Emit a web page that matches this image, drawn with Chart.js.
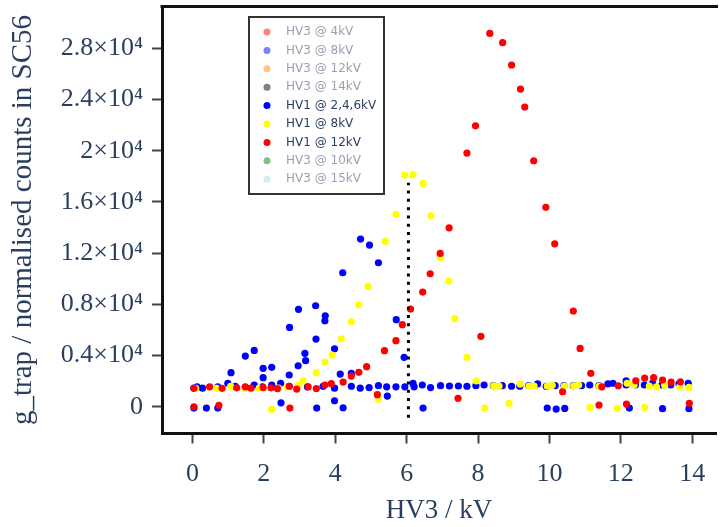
<!DOCTYPE html>
<html>
<head>
<meta charset="utf-8">
<script src="https://cdn.jsdelivr.net/npm/chart.js@4.4.1/dist/chart.umd.min.js"></script>
<style>
  html, body { margin: 0; padding: 0; background: #fff; }
  #wrap { width: 720px; height: 527px; }
</style>
</head>
<body>
<div id="wrap"><canvas id="chart" width="720" height="527"></canvas></div>
<script>
// tick labels
const xTicks = [0, 2, 4, 6, 8, 10, 12, 14];
const yMajor = [0, 4000, 8000, 12000, 16000, 20000, 24000, 28000];
const yMajorLabels = ["0", "0.4×10⁴", "0.8×10⁴", "1.2×10⁴", "1.6×10⁴", "2×10⁴", "2.4×10⁴", "2.8×10⁴"];
const yMinor = [2000, 6000, 10000, 14000, 18000, 22000, 26000, 30000];

// legend entries (order as in the legend box)
const seriesNames = ["HV3 @ 4kV", "HV3 @ 8kV", "HV3 @ 12kV", "HV3 @ 14kV", "HV1 @ 2,4,6kV", "HV1 @ 8kV", "HV1 @ 12kV", "HV3 @ 10kV", "HV3 @ 15kV"];
const seriesColors = ["#ff0000", "#0000ff", "#ff8c00", "#000000", "#0000ff", "#ffff00", "#ff0000", "#008000", "#add8e6"];
const seriesShown = [false, false, false, false, true, true, true, false, false];

// HV1 @ 2,4,6kV  [HV3 kV, counts]
const hv1_246 = [
  [0.04,1450],[0.13,1560],[0.28,1450],[0.71,1560],[0.99,1830],[1.2,1600],[1.48,1520],[1.73,1700],
  [1.96,1560],[2.22,1700],[2.47,1830],[2.71,1600],[3.22,1560],[3.66,1600],[3.98,1450],[4.45,1600],
  [4.7,1450],[4.95,1500],[5.21,1650],[5.44,1560],[5.7,1560],[5.95,1560],[6.18,1820],[6.21,1560],
  [6.44,1700],[6.67,1500],[6.95,1650],[7.2,1620],[7.45,1620],[7.69,1600],[7.94,1650],[8.17,1700],
  [8.43,1650],[8.68,1650],[8.94,1600],[9.17,1600],[9.42,1650],[9.67,1780],[9.91,1600],[10.16,1650],
  [10.41,1650],[10.67,1650],[10.9,1650],[11.13,1700],[11.39,1650],[11.64,1780],[11.78,1830],[12.15,2030],
  [12.15,1700],[12.41,1700],[12.66,1700],[12.89,1830],[13.15,1700],[13.4,1700],[13.63,1780],[13.89,1830],
  [1.08,2660],[1.48,3960],[1.73,4400],[1.98,3000],[1.98,2270],[2.22,3080],[2.72,6200],[2.71,2480],
  [2.96,3200],[2.97,7610],[3.15,4170],[3.17,3600],[3.45,7890],[3.46,5290],[3.72,7110],[3.71,6720],
  [3.98,4530],[4.14,2550],[4.21,10470],[4.45,2600],[4.71,13100],[4.96,12630],[5.21,11250],[5.46,830],
  [5.71,6800],[5.93,3860],
  [0.04,-100],[0.39,-100],[0.71,-100],[2.48,310],[3.48,-100],[3.98,470],[4.22,-80],[6.46,-100],
  [9.94,-100],[10.19,-180],[10.43,-130],[12.24,-100],[13.17,-150],[13.91,-150]
];

// HV1 @ 8kV
const hv1_8 = [
  [0.09,1440],[0.68,1440],[1.07,1600],[1.46,1440],[1.87,1450],[2.41,1450],[2.66,1560],[2.97,1700],
  [3.1,2030],[3.47,2660],[3.71,3490],[3.91,4040],[4.17,5310],[4.45,6640],[4.66,7970],[4.92,9400],
  [5.4,12920],[5.7,15030],[5.95,18100],[6.18,18130],[6.46,17450],[6.68,14920],[6.95,11670],[7.18,9820],
  [7.35,6880],[7.69,3860],[7.95,2010],[8.44,1640],[8.59,1620],[9.18,1770],[9.43,1620],[9.57,1620],
  [9.94,1620],[10.08,1670],[10.42,1620],[10.68,1640],[10.82,1700],[11.4,1620],[12.18,1830],[12.37,1700],
  [12.8,1620],[13.0,1560],[13.23,1670],[13.65,1560],[13.91,1510],
  [2.22,-200],[5.21,580],[8.19,-100],[8.87,270],[11.14,-50],[11.9,-130],[12.67,-50]
];

// HV1 @ 12kV
const hv1_12 = [
  [0.04,1440],[0.48,1560],[0.83,1440],[1.24,1480],[1.48,1560],[1.64,1450],[1.98,1500],[2.2,1480],
  [2.38,1420],[2.71,1600],[2.92,1380],[3.24,1560],[3.47,1420],[3.71,1700],[3.89,1800],[4.22,1930],
  [4.45,2400],[4.66,2690],[4.88,3130],[5.38,4380],[5.7,5160],[5.88,6410],[6.11,7630],[6.45,8960],
  [6.66,10390],[6.94,11980],[7.19,13980],[7.69,19820],[7.93,21950],[8.33,29170],[8.69,28440],[8.94,26700],
  [9.19,24820],[9.31,23410],[9.56,19220],[9.9,15580],[10.15,12730],[10.67,7480],[10.86,4560],[8.08,5500],
  [7.44,660],[11.16,2610],[10.37,1170],[11.47,1560],[11.93,1640],[12.42,2030],[12.67,2240],[12.92,2270],
  [13.17,2090],[13.41,1930],[13.67,1950],
  [0.04,0],[0.74,110],[2.73,-100],[5.18,940],[11.39,130],[12.16,210],[13.92,270]
];

// dotted marker line
const markerLine = [[6.05,-850],[6.05,17500]];

const seriesData = [[], [], [], [], hv1_246, hv1_8, hv1_12, [], []];
const seriesOrder = [9, 9, 9, 9, 3, 2, 1, 9, 9];

const toPts = arr => arr.map(p => ({x: p[0], y: p[1]}));

const datasets = seriesNames.map((name, i) => ({
    type: "scatter",
    label: name,
    data: toPts(seriesData[i]),
    order: seriesOrder[i],
    pointRadius: 3.6,
    pointBorderWidth: 0,
    pointBackgroundColor: seriesColors[i],
    backgroundColor: seriesColors[i],
    shown: seriesShown[i]
}));

datasets.push({
    type: "line",
    label: "marker",
    data: toPts(markerLine),
    order: 0,
    borderColor: "#000",
    borderWidth: 3,
    borderDash: [3, 5.3],
    pointRadius: 0,
    noLegend: true
});

function fade(hex) {
    let r = parseInt(hex.substr(1, 2), 16), g = parseInt(hex.substr(3, 2), 16), b = parseInt(hex.substr(5, 2), 16);
    return "rgb(" + Math.round((r + 255) / 2) + "," + Math.round((g + 255) / 2) + "," + Math.round((b + 255) / 2) + ")";
}

// legend box inside the plot and top frame line
const boxLegend = {
    id: "boxLegend",
    afterDraw(chart) {
        const c = chart.ctx, a = chart.chartArea;
        c.save();
        c.strokeStyle = "#111";
        c.lineWidth = 3;
        c.beginPath();
        c.moveTo(a.left - 1.5, a.top);
        c.lineTo(a.right + 2, a.top);
        c.stroke();

        c.fillStyle = "#fff";
        c.fillRect(249, 17, 135, 177);
        c.strokeStyle = "#333";
        c.lineWidth = 2;
        c.strokeRect(249, 17, 135, 177);

        c.font = "12px 'DejaVu Sans'";
        c.textBaseline = "middle";
        c.textAlign = "left";
        chart.data.datasets.filter(d => !d.noLegend).forEach((d, i) => {
            let y = 32 + i * 18.4;
            let col = d.shown ? d.pointBackgroundColor : fade(d.pointBackgroundColor);
            c.fillStyle = col;
            c.beginPath();
            c.arc(267, y, 3.5, 0, Math.PI * 2);
            c.fill();
            c.fillStyle = d.shown ? "#2a3f5f" : "#97a1b0";
            c.fillText(d.label, 286, y);
        });
        c.restore();
    }
};

const textColor = "#2a3f5f";

new Chart(document.getElementById("chart"), {
    data: { datasets: datasets },
    options: {
        responsive: false,
        animation: false,
        layout: { padding: { top: 6.5, right: 0, left: 0, bottom: 0 } },
        plugins: { legend: { display: false }, tooltip: { enabled: false } },
        scales: {
            x: {
                type: "linear",
                min: -0.854,
                max: 14.668,
                afterFit: s => { s.height = 93.5; s.paddingLeft = 0; s.paddingRight = 0; },
                afterBuildTicks: s => { s.ticks = xTicks.map(v => ({value: v})); },
                grid: { drawOnChartArea: false, drawTicks: true, tickLength: 10, tickWidth: 2, tickColor: "#444" },
                border: { display: true, width: 3, color: "#111" },
                ticks: { color: textColor, padding: 15, font: { family: "'Liberation Serif'", size: 26 }, maxRotation: 0 },
                title: { display: true, text: "HV3 / kV", color: textColor, font: { family: "'Liberation Serif'", size: 27 }, padding: { top: 0, bottom: 0 } }
            },
            y: {
                type: "linear",
                min: -2090,
                max: 31270,
                afterFit: s => { s.width = 162; s.paddingTop = 0; s.paddingBottom = 0; },
                afterBuildTicks: s => { s.ticks = yMajor.concat(yMinor).sort((p, q) => p - q).map(v => ({value: v})); },
                grid: { drawOnChartArea: false, drawTicks: true, tickLength: 10, tickWidth: 2, tickColor: "#444" },
                border: { display: true, width: 3, color: "#111" },
                ticks: {
                    color: textColor,
                    padding: 9,
                    font: { family: "'Liberation Serif'", size: 26 },
                    callback: v => { let k = yMajor.indexOf(v); return k >= 0 ? yMajorLabels[k] : ""; }
                },
                title: { display: true, text: "g_trap / normalised counts in SC56", color: textColor, font: { family: "'Liberation Serif'", size: 29 }, padding: { top: 6, bottom: 0 } }
            }
        }
    },
    plugins: [boxLegend]
});
</script>
</body>
</html>
